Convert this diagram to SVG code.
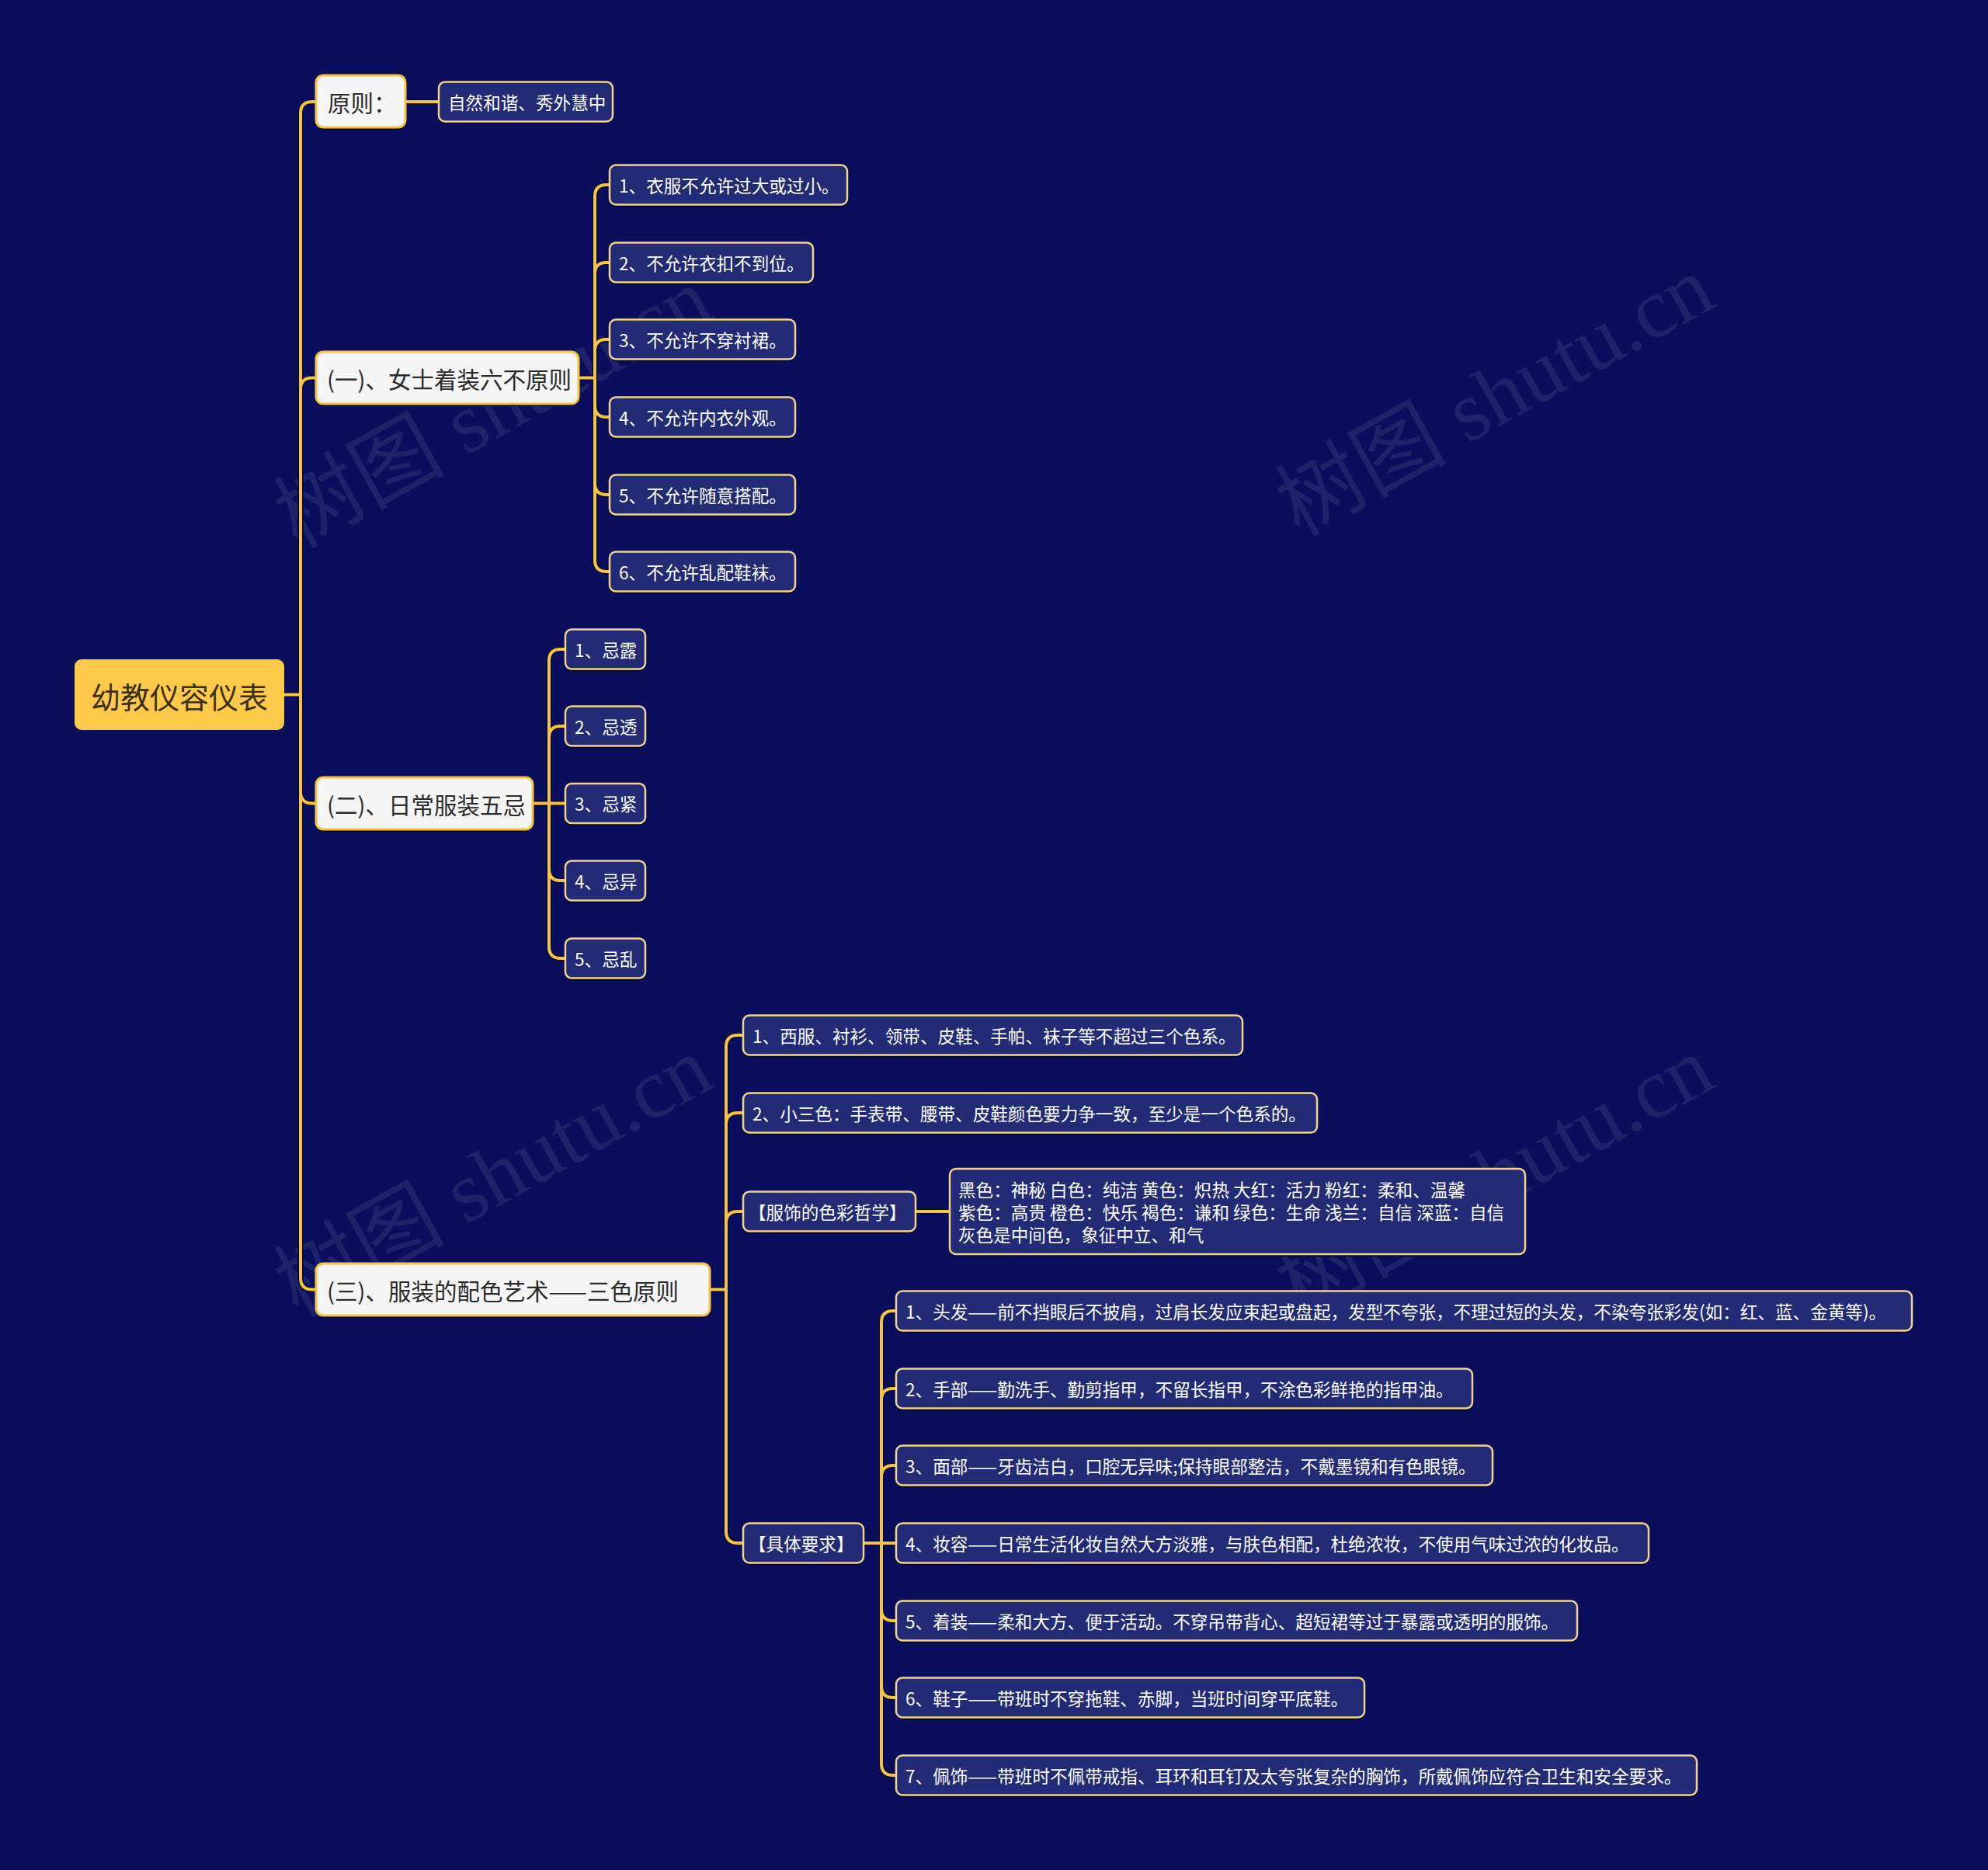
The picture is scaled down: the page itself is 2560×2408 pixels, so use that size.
<svg xmlns="http://www.w3.org/2000/svg" width="2560" height="2408" viewBox="0 0 2560 2408">
<defs>
<style>
.bg{fill:#0a0e5c}
.c{fill:none;stroke:#f5c443;stroke-width:4;stroke-linecap:round;stroke-linejoin:round}
.cs{fill:none;stroke:#05073a;stroke-width:7;stroke-linecap:round;stroke-linejoin:round}
.leaf{fill:#232a76;stroke:#f2d48c;stroke-width:2.5}
.sh{fill:#04062f}
.l1{fill:#f5f5f5;stroke:#f5c443;stroke-width:3}
.root{fill:#ffc94a}
.t{font-family:"Noto Sans CJK SC","Noto Sans",sans-serif;dominant-baseline:central}
.tl{font-size:22.6px;fill:#ffffff}
.t1{font-size:29.5px;fill:#2b2b2b}
.t0{font-size:38px;fill:#3b3012}
.wm{font-family:"Liberation Serif","Noto Sans CJK SC",serif;font-size:110px;fill:#c8c8d8;fill-opacity:0.11}
</style>
</defs>
<rect class="bg" x="0" y="0" width="2560" height="2408"/>

<g id="watermarks">
<text class="wm" transform="translate(635,525) rotate(-29)" text-anchor="middle" dominant-baseline="central">树图 shutu.cn</text>
<text class="wm" transform="translate(1925,510) rotate(-29)" text-anchor="middle" dominant-baseline="central">树图 shutu.cn</text>
<text class="wm" transform="translate(635,1515) rotate(-29)" text-anchor="middle" dominant-baseline="central">树图 shutu.cn</text>
<text class="wm" transform="translate(1925,1515) rotate(-29)" text-anchor="middle" dominant-baseline="central">树图 shutu.cn</text>
</g>

<g id="connectors">
<g class="cs">
<path d="M366,894.5H387M387,894.5V146Q387,131 402,131H407M387,894.5V501.5Q387,486.5 402,486.5H407M387,894.5V1019.5Q387,1034.5 402,1034.5H407M387,894.5V1645.5Q387,1660.5 402,1660.5H407"/>
<path d="M522,131H565"/>
<path d="M745,486.5H766M766,486.5V253Q766,238 781,238H785M766,486.5V353Q766,338 781,338H785M766,486.5V452Q766,437 781,437H785M766,486.5V522Q766,537 781,537H785M766,486.5V622Q766,637 781,637H785M766,486.5V721Q766,736 781,736H785"/>
<path d="M686,1034.5H707M707,1034.5V851Q707,836 722,836H728M707,1034.5V950Q707,935 722,935H728M707,1034.5H728M707,1034.5V1119Q707,1134 722,1134H728M707,1034.5V1219Q707,1234 722,1234H728"/>
<path d="M914,1660.5H935M935,1660.5V1348Q935,1333 950,1333H957M935,1660.5V1448Q935,1433 950,1433H957M935,1660.5V1575Q935,1560 950,1560H957M935,1660.5V1972Q935,1987 950,1987H957"/>
<path d="M1179,1560H1223"/>
<path d="M1112,1987H1135M1135,1987V1703Q1135,1688 1150,1688H1154M1135,1987V1803Q1135,1788 1150,1788H1154M1135,1987V1902Q1135,1887 1150,1887H1154M1135,1987H1154M1135,1987V2072Q1135,2087 1150,2087H1154M1135,1987V2171Q1135,2186 1150,2186H1154M1135,1987V2271Q1135,2286 1150,2286H1154"/>
</g>
<g class="c">
<path d="M366,894.5H387M387,894.5V146Q387,131 402,131H407M387,894.5V501.5Q387,486.5 402,486.5H407M387,894.5V1019.5Q387,1034.5 402,1034.5H407M387,894.5V1645.5Q387,1660.5 402,1660.5H407"/>
<path d="M522,131H565"/>
<path d="M745,486.5H766M766,486.5V253Q766,238 781,238H785M766,486.5V353Q766,338 781,338H785M766,486.5V452Q766,437 781,437H785M766,486.5V522Q766,537 781,537H785M766,486.5V622Q766,637 781,637H785M766,486.5V721Q766,736 781,736H785"/>
<path d="M686,1034.5H707M707,1034.5V851Q707,836 722,836H728M707,1034.5V950Q707,935 722,935H728M707,1034.5H728M707,1034.5V1119Q707,1134 722,1134H728M707,1034.5V1219Q707,1234 722,1234H728"/>
<path d="M914,1660.5H935M935,1660.5V1348Q935,1333 950,1333H957M935,1660.5V1448Q935,1433 950,1433H957M935,1660.5V1575Q935,1560 950,1560H957M935,1660.5V1972Q935,1987 950,1987H957"/>
<path d="M1179,1560H1223"/>
<path d="M1112,1987H1135M1135,1987V1703Q1135,1688 1150,1688H1154M1135,1987V1803Q1135,1788 1150,1788H1154M1135,1987V1902Q1135,1887 1150,1887H1154M1135,1987H1154M1135,1987V2072Q1135,2087 1150,2087H1154M1135,1987V2171Q1135,2186 1150,2186H1154M1135,1987V2271Q1135,2286 1150,2286H1154"/>
</g>
</g>

<g id="root">
<rect x="96" y="849" width="270" height="91" rx="9" class="root"/>
<text class="t t0" x="231" y="895" text-anchor="middle">幼教仪容仪表</text>
</g>

<g id="n-yuanze">
<rect x="407" y="97" width="115" height="67" rx="9" class="sh" transform="translate(0,3)"/>
<rect x="407" y="97" width="115" height="67" rx="9" class="l1"/>
<text class="t t1" x="422" y="131">原则：</text>
</g>
<g id="n-yuanze-1">
<rect x="565" y="105.5" width="224" height="51" rx="8" class="sh" transform="translate(0,3)"/>
<rect x="565" y="105.5" width="224" height="51" rx="8" class="leaf"/>
<text class="t tl" x="577" y="131">自然和谐、秀外慧中</text>
</g>

<g id="n-1">
<rect x="407" y="453" width="338" height="67" rx="9" class="sh" transform="translate(0,3)"/>
<rect x="407" y="453" width="338" height="67" rx="9" class="l1"/>
<text class="t t1" x="421" y="487">(一)、女士着装六不原则</text>
</g>
<g id="n-1-1"><rect x="785" y="212.5" width="306" height="51" rx="8" class="sh" transform="translate(0,3)"/><rect x="785" y="212.5" width="306" height="51" rx="8" class="leaf"/><text class="t tl" x="797" y="238">1、衣服不允许过大或过小。</text></g>
<g id="n-1-2"><rect x="785" y="312.5" width="262" height="51" rx="8" class="sh" transform="translate(0,3)"/><rect x="785" y="312.5" width="262" height="51" rx="8" class="leaf"/><text class="t tl" x="797" y="338">2、不允许衣扣不到位。</text></g>
<g id="n-1-3"><rect x="785" y="411.5" width="239" height="51" rx="8" class="sh" transform="translate(0,3)"/><rect x="785" y="411.5" width="239" height="51" rx="8" class="leaf"/><text class="t tl" x="797" y="437">3、不允许不穿衬裙。</text></g>
<g id="n-1-4"><rect x="785" y="511.5" width="239" height="51" rx="8" class="sh" transform="translate(0,3)"/><rect x="785" y="511.5" width="239" height="51" rx="8" class="leaf"/><text class="t tl" x="797" y="537">4、不允许内衣外观。</text></g>
<g id="n-1-5"><rect x="785" y="611.5" width="239" height="51" rx="8" class="sh" transform="translate(0,3)"/><rect x="785" y="611.5" width="239" height="51" rx="8" class="leaf"/><text class="t tl" x="797" y="637">5、不允许随意搭配。</text></g>
<g id="n-1-6"><rect x="785" y="710.5" width="239" height="51" rx="8" class="sh" transform="translate(0,3)"/><rect x="785" y="710.5" width="239" height="51" rx="8" class="leaf"/><text class="t tl" x="797" y="736">6、不允许乱配鞋袜。</text></g>

<g id="n-2">
<rect x="407" y="1001" width="279" height="67" rx="9" class="sh" transform="translate(0,3)"/>
<rect x="407" y="1001" width="279" height="67" rx="9" class="l1"/>
<text class="t t1" x="421" y="1035">(二)、日常服装五忌</text>
</g>
<g id="n-2-1"><rect x="728" y="810.5" width="103" height="51" rx="8" class="sh" transform="translate(0,3)"/><rect x="728" y="810.5" width="103" height="51" rx="8" class="leaf"/><text class="t tl" x="740" y="836">1、忌露</text></g>
<g id="n-2-2"><rect x="728" y="909.5" width="103" height="51" rx="8" class="sh" transform="translate(0,3)"/><rect x="728" y="909.5" width="103" height="51" rx="8" class="leaf"/><text class="t tl" x="740" y="935">2、忌透</text></g>
<g id="n-2-3"><rect x="728" y="1009" width="103" height="51" rx="8" class="sh" transform="translate(0,3)"/><rect x="728" y="1009" width="103" height="51" rx="8" class="leaf"/><text class="t tl" x="740" y="1034.5">3、忌紧</text></g>
<g id="n-2-4"><rect x="728" y="1108.5" width="103" height="51" rx="8" class="sh" transform="translate(0,3)"/><rect x="728" y="1108.5" width="103" height="51" rx="8" class="leaf"/><text class="t tl" x="740" y="1134">4、忌异</text></g>
<g id="n-2-5"><rect x="728" y="1208.5" width="103" height="51" rx="8" class="sh" transform="translate(0,3)"/><rect x="728" y="1208.5" width="103" height="51" rx="8" class="leaf"/><text class="t tl" x="740" y="1234">5、忌乱</text></g>

<g id="n-3">
<rect x="407" y="1627" width="507" height="67" rx="9" class="sh" transform="translate(0,3)"/>
<rect x="407" y="1627" width="507" height="67" rx="9" class="l1"/>
<text class="t t1" x="421" y="1661">(三)、服装的配色艺术——三色原则</text>
</g>
<g id="n-3-1"><rect x="957" y="1307.5" width="643" height="51" rx="8" class="sh" transform="translate(0,3)"/><rect x="957" y="1307.5" width="643" height="51" rx="8" class="leaf"/><text class="t tl" x="969" y="1333">1、西服、衬衫、领带、皮鞋、手帕、袜子等不超过三个色系。</text></g>
<g id="n-3-2"><rect x="957" y="1407.5" width="739" height="51" rx="8" class="sh" transform="translate(0,3)"/><rect x="957" y="1407.5" width="739" height="51" rx="8" class="leaf"/><text class="t tl" x="969" y="1433">2、小三色：手表带、腰带、皮鞋颜色要力争一致，至少是一个色系的。</text></g>
<g id="n-3-3"><rect x="957" y="1534.5" width="222" height="51" rx="8" class="sh" transform="translate(0,3)"/><rect x="957" y="1534.5" width="222" height="51" rx="8" class="leaf"/><text class="t tl" x="964" y="1560">【服饰的色彩哲学】</text></g>
<g id="n-3-3-1"><rect x="1223" y="1505" width="741" height="110" rx="8" class="sh" transform="translate(0,3)"/><rect x="1223" y="1505" width="741" height="110" rx="8" class="leaf"/>
<text class="t tl" x="1234" y="1531">黑色：神秘 白色：纯洁 黄色：炽热 大红：活力 粉红：柔和、温馨</text>
<text class="t tl" x="1234" y="1560">紫色：高贵 橙色：快乐 褐色：谦和 绿色：生命 浅兰：自信 深蓝：自信</text>
<text class="t tl" x="1234" y="1589">灰色是中间色，象征中立、和气</text>
</g>
<g id="n-3-4"><rect x="957" y="1961.5" width="155" height="51" rx="8" class="sh" transform="translate(0,3)"/><rect x="957" y="1961.5" width="155" height="51" rx="8" class="leaf"/><text class="t tl" x="964" y="1987">【具体要求】</text></g>
<g id="n-3-4-1"><rect x="1154" y="1662.5" width="1308" height="51" rx="8" class="sh" transform="translate(0,3)"/><rect x="1154" y="1662.5" width="1308" height="51" rx="8" class="leaf"/><text class="t tl" x="1166" y="1688">1、头发——前不挡眼后不披肩，过肩长发应束起或盘起，发型不夸张，不理过短的头发，不染夸张彩发(如：红、蓝、金黄等)。</text></g>
<g id="n-3-4-2"><rect x="1154" y="1762.5" width="742" height="51" rx="8" class="sh" transform="translate(0,3)"/><rect x="1154" y="1762.5" width="742" height="51" rx="8" class="leaf"/><text class="t tl" x="1166" y="1788">2、手部——勤洗手、勤剪指甲，不留长指甲，不涂色彩鲜艳的指甲油。</text></g>
<g id="n-3-4-3"><rect x="1154" y="1861.5" width="768" height="51" rx="8" class="sh" transform="translate(0,3)"/><rect x="1154" y="1861.5" width="768" height="51" rx="8" class="leaf"/><text class="t tl" x="1166" y="1887">3、面部——牙齿洁白，口腔无异味;保持眼部整洁，不戴墨镜和有色眼镜。</text></g>
<g id="n-3-4-4"><rect x="1154" y="1961.5" width="969" height="51" rx="8" class="sh" transform="translate(0,3)"/><rect x="1154" y="1961.5" width="969" height="51" rx="8" class="leaf"/><text class="t tl" x="1166" y="1987">4、妆容——日常生活化妆自然大方淡雅，与肤色相配，杜绝浓妆，不使用气味过浓的化妆品。</text></g>
<g id="n-3-4-5"><rect x="1154" y="2061.5" width="877" height="51" rx="8" class="sh" transform="translate(0,3)"/><rect x="1154" y="2061.5" width="877" height="51" rx="8" class="leaf"/><text class="t tl" x="1166" y="2087">5、着装——柔和大方、便于活动。不穿吊带背心、超短裙等过于暴露或透明的服饰。</text></g>
<g id="n-3-4-6"><rect x="1154" y="2160.5" width="603" height="51" rx="8" class="sh" transform="translate(0,3)"/><rect x="1154" y="2160.5" width="603" height="51" rx="8" class="leaf"/><text class="t tl" x="1166" y="2186">6、鞋子——带班时不穿拖鞋、赤脚，当班时间穿平底鞋。</text></g>
<g id="n-3-4-7"><rect x="1154" y="2260.5" width="1031" height="51" rx="8" class="sh" transform="translate(0,3)"/><rect x="1154" y="2260.5" width="1031" height="51" rx="8" class="leaf"/><text class="t tl" x="1166" y="2286">7、佩饰——带班时不佩带戒指、耳环和耳钉及太夸张复杂的胸饰，所戴佩饰应符合卫生和安全要求。</text></g>
</svg>
